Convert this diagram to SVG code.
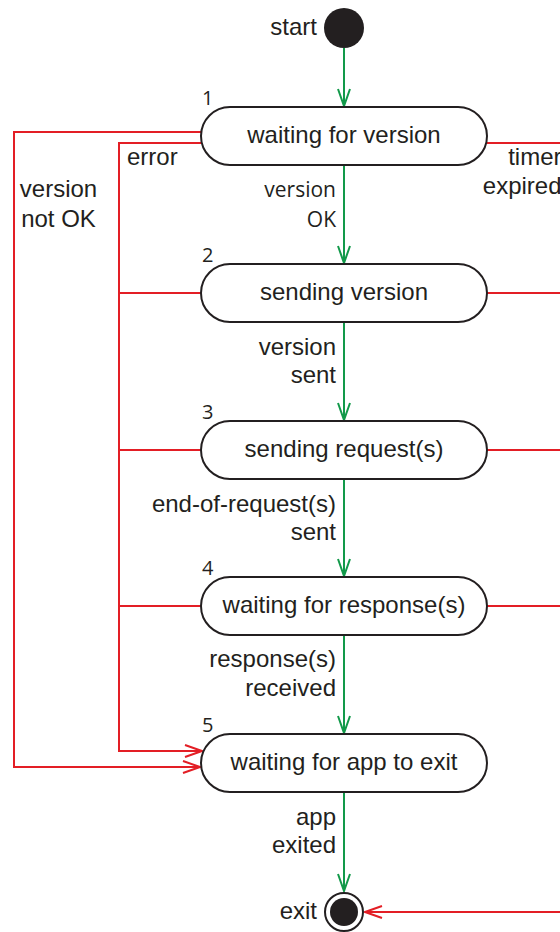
<svg xmlns="http://www.w3.org/2000/svg" width="560" height="932" viewBox="0 0 560 932">
<style>
.node rect{fill:#fff;stroke:#231f20;stroke-width:2}
.t{font-family:"Liberation Sans",Arial,sans-serif;font-size:24px;fill:#231f20}
.n{font-family:"Open Sans","Noto Sans",sans-serif;font-size:20px;fill:#231f20}
.o{font-family:"Open Sans","Noto Sans",sans-serif;font-size:21px;fill:#231f20}
.mid{text-anchor:middle}
.end{text-anchor:end}
.g{fill:none;stroke:#12994a;stroke-width:2}
.r{fill:none;stroke:#e31e25;stroke-width:2}
</style>
<defs>
<marker id="ag" markerUnits="userSpaceOnUse" markerWidth="20" markerHeight="16" viewBox="-19 -8 20 16" refX="0" refY="0" orient="auto">
<path d="M-17,-6 L0,0 L-17,6" fill="none" stroke="#12994a" stroke-width="2"/>
</marker>
<marker id="ar" markerUnits="userSpaceOnUse" markerWidth="20" markerHeight="16" viewBox="-19 -8 20 16" refX="0" refY="0" orient="auto">
<path d="M-17,-6 L0,0 L-17,6" fill="none" stroke="#e31e25" stroke-width="2"/>
</marker>
</defs>

<g id="connectors">
<line class="g" x1="344" y1="48" x2="344" y2="106" marker-end="url(#ag)"/>
<line class="g" x1="344" y1="165" x2="344" y2="263" marker-end="url(#ag)"/>
<line class="g" x1="344" y1="322" x2="344" y2="420" marker-end="url(#ag)"/>
<line class="g" x1="344" y1="479" x2="344" y2="576" marker-end="url(#ag)"/>
<line class="g" x1="344" y1="635" x2="344" y2="733" marker-end="url(#ag)"/>
<line class="g" x1="344" y1="792" x2="344" y2="891" marker-end="url(#ag)"/>
<polyline class="r" points="201.5,132 14,132 14,767 200,767" marker-end="url(#ar)"/>
<polyline class="r" points="202,143 119,143 119,751 202,751" marker-end="url(#ar)"/>
<line class="r" x1="119" y1="293" x2="201" y2="293"/>
<line class="r" x1="119" y1="450" x2="201" y2="450"/>
<line class="r" x1="119" y1="606" x2="201" y2="606"/>
<line class="r" x1="486" y1="143" x2="560" y2="143"/>
<line class="r" x1="487" y1="293" x2="560" y2="293"/>
<line class="r" x1="487" y1="450" x2="560" y2="450"/>
<line class="r" x1="487" y1="606" x2="560" y2="606"/>
<line class="r" x1="560" y1="912" x2="365" y2="912" marker-end="url(#ar)"/>
<text class="o end" x="336" y="197">version</text>
<text class="o end" x="336" y="227">OK</text>
<text class="t end" x="336" y="355">version</text>
<text class="t end" x="336" y="383">sent</text>
<text class="t end" x="336" y="512">end-of-request(s)</text>
<text class="t end" x="336" y="540">sent</text>
<text class="t end" x="336" y="667">response(s)</text>
<text class="t end" x="336" y="696">received</text>
<text class="t end" x="336" y="825">app</text>
<text class="t end" x="336" y="853">exited</text>
<text class="t" x="127" y="165">error</text>
<text class="t mid" x="58.5" y="197">version</text>
<text class="t mid" x="58.5" y="227">not OK</text>
<text class="t end" x="561.5" y="165">timer</text>
<text class="t end" x="561.5" y="194">expired</text>
</g>

<g id="start">
<circle cx="344" cy="28" r="20" fill="#231f20"/>
<text class="t end" x="317" y="35">start</text>
</g>

<g id="node1" class="node">
<rect x="201" y="107" width="286" height="58" rx="29"/>
<text class="t mid" x="344" y="143">waiting for version</text>
<text class="n" x="202" y="105">1</text>
</g>
<g id="node2" class="node">
<rect x="201" y="264" width="286" height="58" rx="29"/>
<text class="t mid" x="344" y="300">sending version</text>
<text class="n" x="202" y="262">2</text>
</g>
<g id="node3" class="node">
<rect x="201" y="421" width="286" height="58" rx="29"/>
<text class="t mid" x="344" y="457">sending request(s)</text>
<text class="n" x="202" y="419">3</text>
</g>
<g id="node4" class="node">
<rect x="201" y="577" width="286" height="58" rx="29"/>
<text class="t mid" x="344" y="613">waiting for response(s)</text>
<text class="n" x="202" y="575">4</text>
</g>
<g id="node5" class="node">
<rect x="201" y="734" width="286" height="58" rx="29"/>
<text class="t mid" x="344" y="770">waiting for app to exit</text>
<text class="n" x="202" y="732">5</text>
</g>

<g id="exit">
<circle cx="344" cy="912" r="19" fill="#fff" stroke="#231f20" stroke-width="2"/>
<circle cx="344" cy="912" r="14" fill="#231f20"/>
<text class="t end" x="317" y="919">exit</text>
</g>
</svg>
